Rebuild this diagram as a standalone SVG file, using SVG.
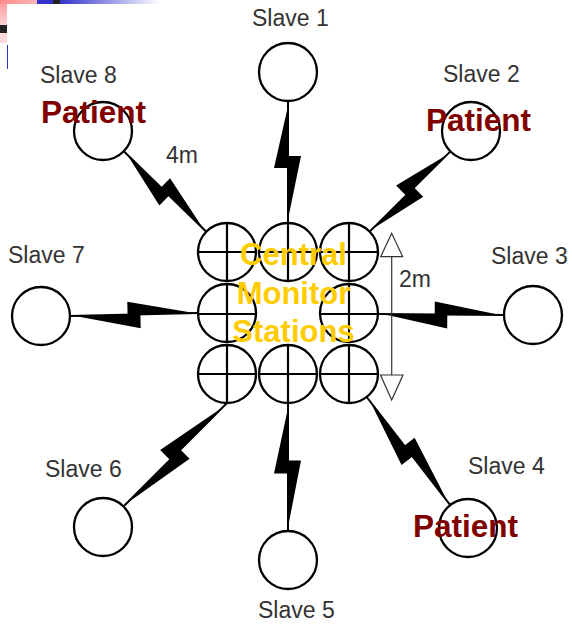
<svg xmlns="http://www.w3.org/2000/svg" width="572" height="625" viewBox="0 0 572 625">
<defs>
<linearGradient id="gPinkH" x1="0" y1="0" x2="1" y2="0"><stop offset="0" stop-color="#ff8a8a"/><stop offset="1" stop-color="#ffb4b4"/></linearGradient>
<linearGradient id="gPinkV" x1="0" y1="0" x2="0" y2="1"><stop offset="0" stop-color="#ffa0a0"/><stop offset="1" stop-color="#ffd4d4"/></linearGradient>
<linearGradient id="gBlue" x1="0" y1="0" x2="1" y2="0"><stop offset="0" stop-color="#3333cc"/><stop offset="1" stop-color="#ffffff"/></linearGradient>
<style>
.c{fill:#fff;stroke:#000;stroke-width:2.3}
.x{stroke:#000;stroke-width:2.2}
.ln{stroke:#000;stroke-width:2}
.bolt{fill:#000}
.lbl{font-family:"Liberation Sans",Arial,sans-serif;font-size:23px;fill:#333}
.pat{font-family:"Liberation Sans",Arial,sans-serif;font-size:31.5px;font-weight:bold;fill:#800000}
.cms{font-family:"Liberation Sans",Arial,sans-serif;font-size:31px;font-weight:bold;fill:#ffcc00;text-anchor:middle}
.dim{stroke:#333;stroke-width:1.2;fill:none}
.ah{fill:#fff;stroke:#333;stroke-width:1.2}
</style>
</defs>
<rect width="572" height="625" fill="#fff"/>
<!-- slide artifact top-left -->
<g id="corner">
<rect x="0" y="0" width="37" height="4" fill="url(#gPinkH)"/>
<rect x="0" y="4" width="7" height="21" fill="url(#gPinkV)"/>
<rect x="0" y="25" width="7" height="8" fill="#222"/>
<rect x="0" y="33" width="7" height="10" fill="#ffd8d8"/>
<rect x="37" y="0" width="16" height="4" fill="#3333cc"/>
<rect x="53" y="0" width="7" height="4" fill="#222"/>
<rect x="60" y="0" width="100" height="4" fill="url(#gBlue)"/>
<line x1="7.5" y1="45" x2="7.5" y2="69" stroke="#3333cc" stroke-width="1"/>
</g>
<!-- connectors -->
<g id="connectors">
<g transform="translate(288,101) rotate(90)"><line class="ln" x1="0" y1="0" x2="122" y2="0"/><path class="bolt" d="M4.9,0 L67.1,14 L67.1,0 Z M54.9,0 L54.9,-13 L118.3,0 Z"/></g>
<g transform="translate(288,403) rotate(90)"><line class="ln" x1="0" y1="0" x2="128" y2="0"/><path class="bolt" d="M5.1,0 L70.4,14 L70.4,0 Z M57.6,0 L57.6,-13 L124.2,0 Z"/></g>
<g transform="translate(70,316) rotate(-1.34)"><line class="ln" x1="0" y1="0" x2="128" y2="0"/><path class="bolt" d="M5.1,0 L70.4,14 L70.4,0 Z M57.6,0 L57.6,-13 L124.2,0 Z"/></g>
<g transform="translate(378,314) rotate(0.45)"><line class="ln" x1="0" y1="0" x2="126" y2="0"/><path class="bolt" d="M5,0 L69.3,14 L69.3,0 Z M56.7,0 L56.7,-13 L122.2,0 Z"/></g>
<g transform="translate(123.8,151.3) rotate(44.3)"><line class="ln" x1="0" y1="0" x2="115.3" y2="0"/><path class="bolt" d="M4.6,0 L63.4,14 L63.4,0 Z M51.9,0 L51.9,-13 L111.8,0 Z"/></g>
<g transform="translate(450.4,151.4) rotate(135.2)"><line class="ln" x1="0" y1="0" x2="113.8" y2="0"/><path class="bolt" d="M4.6,0 L62.6,14 L62.6,0 Z M51.2,0 L51.2,-13 L110.4,0 Z"/></g>
<g transform="translate(227,403) rotate(135)"><line class="ln" x1="0" y1="0" x2="146.4" y2="0"/><path class="bolt" d="M5.9,0 L80.5,14 L80.5,0 Z M65.9,0 L65.9,-13 L142,0 Z"/></g>
<g transform="translate(366.7,397) rotate(52.3)"><line class="ln" x1="0" y1="0" x2="136.6" y2="0"/><path class="bolt" d="M5.5,0 L75.1,14 L75.1,0 Z M61.5,0 L61.5,-13 L132.5,0 Z"/></g>
</g>
<!-- central stations -->
<g id="station-tl"><circle class="c" cx="227" cy="252" r="29"/><line class="x" x1="198" y1="252" x2="256" y2="252"/><line class="x" x1="227" y1="223" x2="227" y2="281"/></g>
<g id="station-tm"><circle class="c" cx="288" cy="252" r="29"/><line class="x" x1="259" y1="252" x2="317" y2="252"/><line class="x" x1="288" y1="223" x2="288" y2="281"/></g>
<g id="station-tr"><circle class="c" cx="349" cy="252" r="29"/><line class="x" x1="320" y1="252" x2="378" y2="252"/><line class="x" x1="349" y1="223" x2="349" y2="281"/></g>
<g id="station-ml"><circle class="c" cx="227" cy="313" r="29"/><line class="x" x1="198" y1="314" x2="256" y2="314"/><line class="x" x1="227" y1="284" x2="227" y2="342"/></g>
<g id="station-mr"><circle class="c" cx="349" cy="313" r="29"/><line class="x" x1="320" y1="314" x2="378" y2="314"/><line class="x" x1="349" y1="284" x2="349" y2="342"/></g>
<g id="station-bl"><circle class="c" cx="227" cy="374" r="29"/><line class="x" x1="198" y1="374" x2="256" y2="374"/><line class="x" x1="227" y1="345" x2="227" y2="403"/></g>
<g id="station-bm"><circle class="c" cx="288" cy="374" r="29"/><line class="x" x1="259" y1="374" x2="317" y2="374"/><line class="x" x1="288" y1="345" x2="288" y2="403"/></g>
<g id="station-br"><circle class="c" cx="349" cy="374" r="29"/><line class="x" x1="320" y1="374" x2="378" y2="374"/><line class="x" x1="349" y1="345" x2="349" y2="403"/></g>
<!-- slaves -->
<g id="slave1"><circle class="c" cx="288" cy="72" r="29"/><text class="lbl" x="252" y="26">Slave 1</text></g>
<g id="slave2"><circle class="c" cx="471" cy="131" r="29"/><text class="lbl" x="443" y="82">Slave 2</text><text class="pat" x="426" y="131">Patient</text></g>
<g id="slave3"><circle class="c" cx="533" cy="315" r="29"/><text class="lbl" x="491" y="264">Slave 3</text></g>
<g id="slave4"><circle class="c" cx="468" cy="528" r="29"/><text class="lbl" x="468" y="474">Slave 4</text><text class="pat" x="413" y="537">Patient</text></g>
<g id="slave5"><circle class="c" cx="288" cy="560" r="29"/><text class="lbl" x="258" y="618">Slave 5</text></g>
<g id="slave6"><circle class="c" cx="103" cy="527" r="29"/><text class="lbl" x="45" y="477">Slave 6</text></g>
<g id="slave7"><circle class="c" cx="41" cy="316" r="29"/><text class="lbl" x="8" y="263">Slave 7</text></g>
<g id="slave8"><circle class="c" cx="103" cy="131" r="29"/><text class="lbl" x="40" y="83">Slave 8</text><text class="pat" x="41" y="123">Patient</text></g>
<!-- dimension 2m -->
<g id="dim2m">
<line class="dim" x1="391.7" y1="256.7" x2="391.7" y2="375"/>
<polygon class="ah" points="391.7,233.3 380.7,256.7 402.7,256.7"/>
<polygon class="ah" points="380.5,375 403,375 391.7,400"/>
<text class="lbl" x="399" y="287">2m</text>
</g>
<text class="lbl" x="166" y="163">4m</text>
<g id="center-label">
<text class="cms" x="293.5" y="265">Central</text>
<text class="cms" x="293.5" y="304">Monitor</text>
<text class="cms" x="293.5" y="342">Stations</text>
</g>
</svg>
